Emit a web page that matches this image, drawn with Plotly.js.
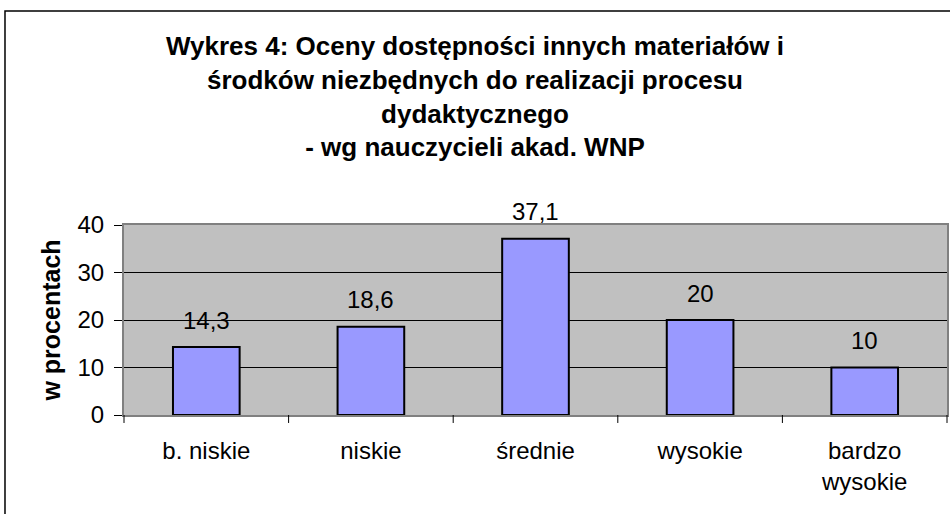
<!DOCTYPE html>
<html>
<head>
<meta charset="utf-8">
<script src="https://cdn.plot.ly/plotly-3.0.1.min.js"></script>
<style>body{margin:0;padding:0;background:#fff;} #chart{width:950px;height:514px;}</style>
</head>
<body>
<div id="chart"></div>
<script>
var categories = ["b. niskie", "niskie", "średnie", "wysokie", "bardzo<br>wysokie"];
var values = [14.3, 18.6, 37.1, 20, 10];
var yTicks = [0, 10, 20, 30, 40];

var FONT = "Liberation Sans, Arial, sans-serif";

var trace = {
  type: "bar",
  x: categories,
  y: values,
  marker: {color: "#9999FF", line: {color: "#000000", width: 2}},
  width: 0.405,
  hoverinfo: "skip"
};

var labels = values.map(function(v, i){
  return {
    x: categories[i], y: v, xref: "x", yref: "y",
    text: String(v).replace(".", ","),
    showarrow: false, yanchor: "middle", yshift: 27,
    font: {family: FONT, size: 24, color: "#000"}
  };
});

var layout = {
  width: 950, height: 514,
  margin: {l: 124, r: 3, t: 225, b: 99},
  paper_bgcolor: "#ffffff",
  plot_bgcolor: "#C0C0C0",
  showlegend: false,
  title: {
    text: "<b>Wykres 4: Oceny dostępności innych materiałów i<br>środków niezbędnych do realizacji procesu<br>dydaktycznego<br>- wg nauczycieli akad. WNP</b>",
    x: 0.5, xref: "container", xanchor: "center",
    y: 0.893, yref: "container", yanchor: "middle",
    font: {family: FONT, size: 26, color: "#000"}
  },
  xaxis: {
    type: "category",
    showline: true, linecolor: "#808080", linewidth: 2, mirror: true,
    ticks: "", showgrid: false,
    tickfont: {family: FONT, size: 24, color: "#000"},
    ticklabelstandoff: 13,
    fixedrange: true
  },
  yaxis: {
    range: [0, 40],
    tickvals: yTicks,
    ticktext: yTicks.map(String),
    ticks: "outside", ticklen: 8, tickcolor: "#000", tickwidth: 1,
    showline: true, linecolor: "#808080", linewidth: 2, mirror: true,
    showgrid: true, gridcolor: "#000", gridwidth: 1,
    zeroline: false,
    tickfont: {family: FONT, size: 24, color: "#000"},
    ticklabelstandoff: 5,
    title: {text: "<b>w procentach</b>", font: {family: FONT, size: 25, color: "#000"}, standoff: 10},
    fixedrange: true
  },
  annotations: labels,
  shapes: [
    {type: "rect", xref: "paper", yref: "paper", x0: -0.1446, x1: 1.005, y0: -0.6, y1: 2.126,
     line: {color: "#000", width: 1.5}, fillcolor: "rgba(0,0,0,0)", layer: "below"}
  ].concat([0.5, 1.5, 2.5, 3.5].map(function(b){
    return {type: "line", xref: "x", yref: "paper", x0: b, x1: b, y0: 0, y1: -0.042, line: {color: "#000", width: 1}};
  })).concat([{type: "line", xref: "paper", yref: "paper", x0: 0, x1: 0, y0: 0, y1: -0.042, line: {color: "#000", width: 1}},
              {type: "line", xref: "paper", yref: "paper", x0: 1, x1: 1, y0: 0, y1: -0.042, line: {color: "#000", width: 1}}])
};

Plotly.newPlot("chart", [trace], layout, {displayModeBar: false, staticPlot: true});
</script>
</body>
</html>
